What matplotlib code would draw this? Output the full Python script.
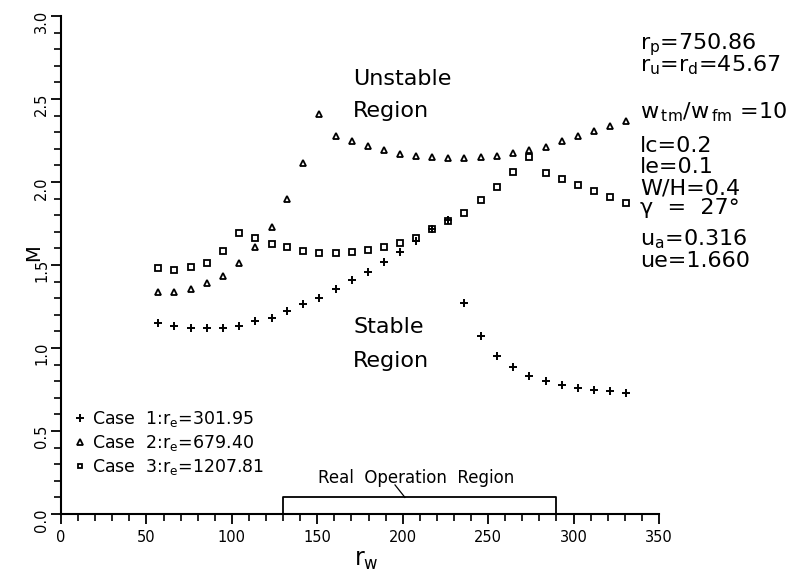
import matplotlib

matplotlib.use("Agg")
import matplotlib.pyplot as plt
from matplotlib.ticker import FormatStrFormatter, MultipleLocator


# r_w sample positions shared by the three cases
R_W = [57.0, 66.1, 75.9, 85.3, 95.0, 104.2, 113.5, 123.3, 132.1, 141.8,
       151.2, 161.0, 170.1, 179.5, 189.2, 198.4, 207.8, 217.0, 226.7, 236.0,
       245.6, 255.0, 264.4, 274.1, 283.7, 293.0, 302.4, 312.0, 321.3, 330.7]

CASE_1 = [1.15, 1.13, 1.12, 1.12, 1.12, 1.135, 1.16, 1.18, 1.22, 1.265,
          1.30, 1.355, 1.41, 1.46, 1.52, 1.58, 1.645, 1.715, 1.77, 1.27,
          1.07, 0.95, 0.885, 0.83, 0.80, 0.775, 0.76, 0.75, 0.74, 0.73]

CASE_2 = [1.335, 1.335, 1.355, 1.39, 1.435, 1.51, 1.61, 1.73, 1.895, 2.115,
          2.41, 2.28, 2.25, 2.215, 2.19, 2.17, 2.155, 2.15, 2.145, 2.145,
          2.15, 2.155, 2.175, 2.195, 2.21, 2.245, 2.275, 2.305, 2.34, 2.37]

CASE_3 = [1.48, 1.47, 1.49, 1.515, 1.585, 1.69, 1.665, 1.625, 1.61, 1.585,
          1.575, 1.575, 1.58, 1.59, 1.61, 1.635, 1.665, 1.715, 1.765, 1.815,
          1.89, 1.97, 2.06, 2.15, 2.055, 2.02, 1.98, 1.945, 1.91, 1.875]

CASE_LABELS = [
    r"Case  1:r$_\mathrm{e}$=301.95",
    r"Case  2:r$_\mathrm{e}$=679.40",
    r"Case  3:r$_\mathrm{e}$=1207.81",
]

# real operation range of r_w and the bracket height
OPERATION_RANGE = [130, 290]
OPERATION_HEIGHT = 0.1

# the first two lines sit tight together, so they share one text block
PARAMETERS = [
    r"r$_\mathrm{p}$=750.86" + "\n" + r"r$_\mathrm{u}$=r$_\mathrm{d}$=45.67",
    r"w$_\mathrm{\,tm}$/w$_\mathrm{\,fm}$ =10",
    "lc=0.2",
    "le=0.1",
    "W/H=0.4",
    "\u03b3  =  27\u00b0",
    r"u$_\mathrm{a}$=0.316",
    "ue=1.660",
]
PARAMETER_BASELINES = [2.664, 2.386, 2.183, 2.052, 1.922, 1.806, 1.62, 1.49]


def main() -> None:
    plt.rcParams.update(
        {
            "font.family": "DejaVu Sans",
            "mathtext.fontset": "dejavusans",
            "axes.linewidth": 1.5,
            "axes.spines.top": False,
            "axes.spines.right": False,
        }
    )

    fig = plt.figure(figsize=(7.95, 5.75), dpi=100)
    ax = fig.add_axes([61 / 795, 61 / 575, 598 / 795, 498 / 575])

    marker_style = dict(linestyle="none", color="black", markerfacecolor="none", clip_on=False)
    h1, = ax.plot(R_W, CASE_1, marker="+", markersize=6, markeredgewidth=1.4, **marker_style)
    h2, = ax.plot(R_W, CASE_2, marker="^", markersize=5, markeredgewidth=1.3, **marker_style)
    h3, = ax.plot(R_W, CASE_3, marker="s", markersize=4.2, markeredgewidth=1.3, **marker_style)

    ax.set_xlim(0, 350)
    ax.set_ylim(0, 3.0)
    ax.xaxis.set_major_locator(MultipleLocator(50))
    ax.xaxis.set_minor_locator(MultipleLocator(10))
    ax.yaxis.set_major_locator(MultipleLocator(0.5))
    ax.yaxis.set_minor_locator(MultipleLocator(0.1))
    ax.yaxis.set_major_formatter(FormatStrFormatter("%.1f"))
    ax.tick_params(which="major", direction="out", length=7.5, width=1.3, labelsize=10.5)
    ax.tick_params(which="minor", direction="out", length=5, width=1.2)
    ax.tick_params(axis="x", pad=4)
    ax.tick_params(axis="y", labelrotation=90, pad=1)

    ax.set_xlabel(r"r$_\mathrm{w}$", fontsize=17)
    ax.xaxis.set_label_coords(0.51, -0.068)
    ax.set_ylabel("M", fontsize=14)
    ax.yaxis.set_label_coords(-0.03, 0.525)

    # operation-region bracket sitting on the x axis
    x0, x1 = OPERATION_RANGE
    ax.plot([x0, x0, x1, x1], [0, OPERATION_HEIGHT, OPERATION_HEIGHT, 0],
            color="black", linewidth=1.3, clip_on=False)
    ax.plot([195.5, 201.3], [0.175, OPERATION_HEIGHT], color="black", linewidth=0.9)
    ax.text(150.4, 0.185, "Real  Operation  Region", fontsize=12, va="baseline")

    ax.text(171, 2.584, "Unstable", fontsize=16, va="baseline")
    ax.text(171, 2.393, "Region", fontsize=16, va="baseline")
    ax.text(171, 1.09, "Stable", fontsize=16, va="baseline")
    ax.text(171, 0.887, "Region", fontsize=16, va="baseline")

    for label, base in zip(PARAMETERS, PARAMETER_BASELINES):
        ax.text(339, base, label, fontsize=16, va="baseline", linespacing=0.78)

    ax.legend(
        [h1, h2, h3],
        CASE_LABELS,
        loc="lower left",
        bbox_to_anchor=(0.022, 0.075),
        frameon=False,
        fontsize=12.5,
        handlelength=0.7,
        handletextpad=0.35,
        labelspacing=0.22,
        borderpad=0,
        borderaxespad=0,
        markerscale=0.85,
    )

    fig.savefig("out.png", dpi=100, facecolor="white")
    plt.close(fig)


if __name__ == "__main__":
    main()
